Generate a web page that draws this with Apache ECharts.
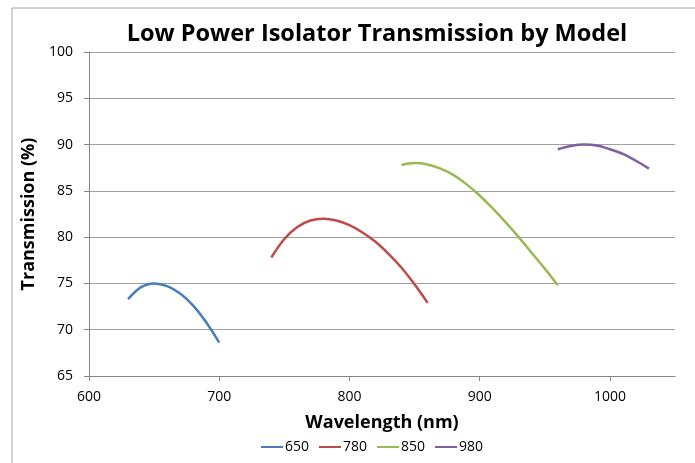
<!DOCTYPE html>
<html>
<head>
<meta charset="utf-8">
<script src="https://cdn.jsdelivr.net/npm/echarts@6/dist/echarts.min.js"></script>
<style>
html,body{margin:0;padding:0;background:#fff;}
#chart{width:695px;height:463px;}
</style>
</head>
<body>
<div id="chart"></div>
<script>
var seriesNames = ['650', '780', '850', '980'];
var wl650 = [630, 640, 650, 660, 670, 680, 690, 700];
var tr650 = [73.3, 74.6, 75.0, 74.7, 73.9, 72.6, 70.8, 68.6];
var wl780 = [740, 750, 760, 770, 780, 790, 800, 810, 820, 830, 840, 850, 860];
var tr780 = [77.8, 79.8, 81.1, 81.8, 82.0, 81.8, 81.3, 80.5, 79.5, 78.2, 76.7, 74.9, 72.9];
var wl850 = [840, 850, 860, 870, 880, 890, 900, 910, 920, 930, 940, 950, 960];
var tr850 = [87.8, 88.0, 87.85, 87.4, 86.7, 85.7, 84.5, 83.1, 81.6, 80.0, 78.3, 76.6, 74.8];
var wl980 = [960, 970, 980, 990, 1000, 1010, 1020, 1030];
var tr980 = [89.5, 89.85, 90.0, 89.9, 89.5, 89.0, 88.25, 87.4];
var colors = ['#4A7EBB', '#BE4B48', '#98B954', '#7D60A0'];

function pairs(xs, ys) { return xs.map(function (x, i) { return [x, ys[i]]; }); }
var allData = [pairs(wl650, tr650), pairs(wl780, tr780), pairs(wl850, tr850), pairs(wl980, tr980)];

var font = 'Open Sans';
var chart = echarts.init(document.getElementById('chart'));
chart.setOption({
  animation: false,
  backgroundColor: '#fff',
  graphic: [{
    type: 'rect',
    shape: { x: 12, y: 8, width: 700, height: 480 },
    style: { fill: 'none', stroke: '#a6a6a6', lineWidth: 1 },
    silent: true
  }],
  title: {
    text: 'Low Power Isolator Transmission by Model',
    left: 372, top: 17, textAlign: 'center',
    textStyle: { fontFamily: font, fontSize: 23.5, fontWeight: 'bold', color: '#000' }
  },
  legend: {
    data: seriesNames,
    bottom: 4, left: 256,
    icon: 'rect', itemWidth: 22, itemHeight: 2, itemGap: 10,
    textStyle: { fontFamily: font, fontSize: 14, color: '#000', padding: [0, 0, 0, -3] }
  },
  grid: { left: 89, right: 20, top: 52, bottom: 87, containLabel: false },
  xAxis: {
    type: 'value', min: 600, max: 1050, interval: 100,
    name: 'Wavelength (nm)', nameLocation: 'middle', nameGap: 38,
    nameTextStyle: { fontFamily: font, fontSize: 18, fontWeight: 'bold', color: '#000' },
    axisLine: { lineStyle: { color: '#868686' } },
    axisTick: { show: true, length: 5, lineStyle: { color: '#868686' } },
    axisLabel: { fontFamily: font, fontSize: 14, color: '#000', margin: 14, showMaxLabel: false,
      formatter: function (v) { return String(v); } },
    splitLine: { show: false }
  },
  yAxis: {
    type: 'value', min: 65, max: 100, interval: 5,
    name: 'Transmission (%)', nameLocation: 'middle', nameGap: 43, nameRotate: 90,
    nameTextStyle: { fontFamily: font, fontSize: 18, fontWeight: 'bold', color: '#000' },
    axisLine: { show: true, lineStyle: { color: '#868686' } },
    axisTick: { show: true, length: 5, lineStyle: { color: '#868686' } },
    axisLabel: { fontFamily: font, fontSize: 14, color: '#000', margin: 16 },
    splitLine: { show: true, lineStyle: { color: '#a0a0a0', width: 1 } }
  },
  series: seriesNames.map(function (n, i) {
    return {
      name: n, type: 'line', data: allData[i], smooth: 0.35,
      showSymbol: false, symbol: 'none',
      lineStyle: { color: colors[i], width: 2.5 },
      itemStyle: { color: colors[i] }
    };
  })
});
</script>
</body>
</html>
